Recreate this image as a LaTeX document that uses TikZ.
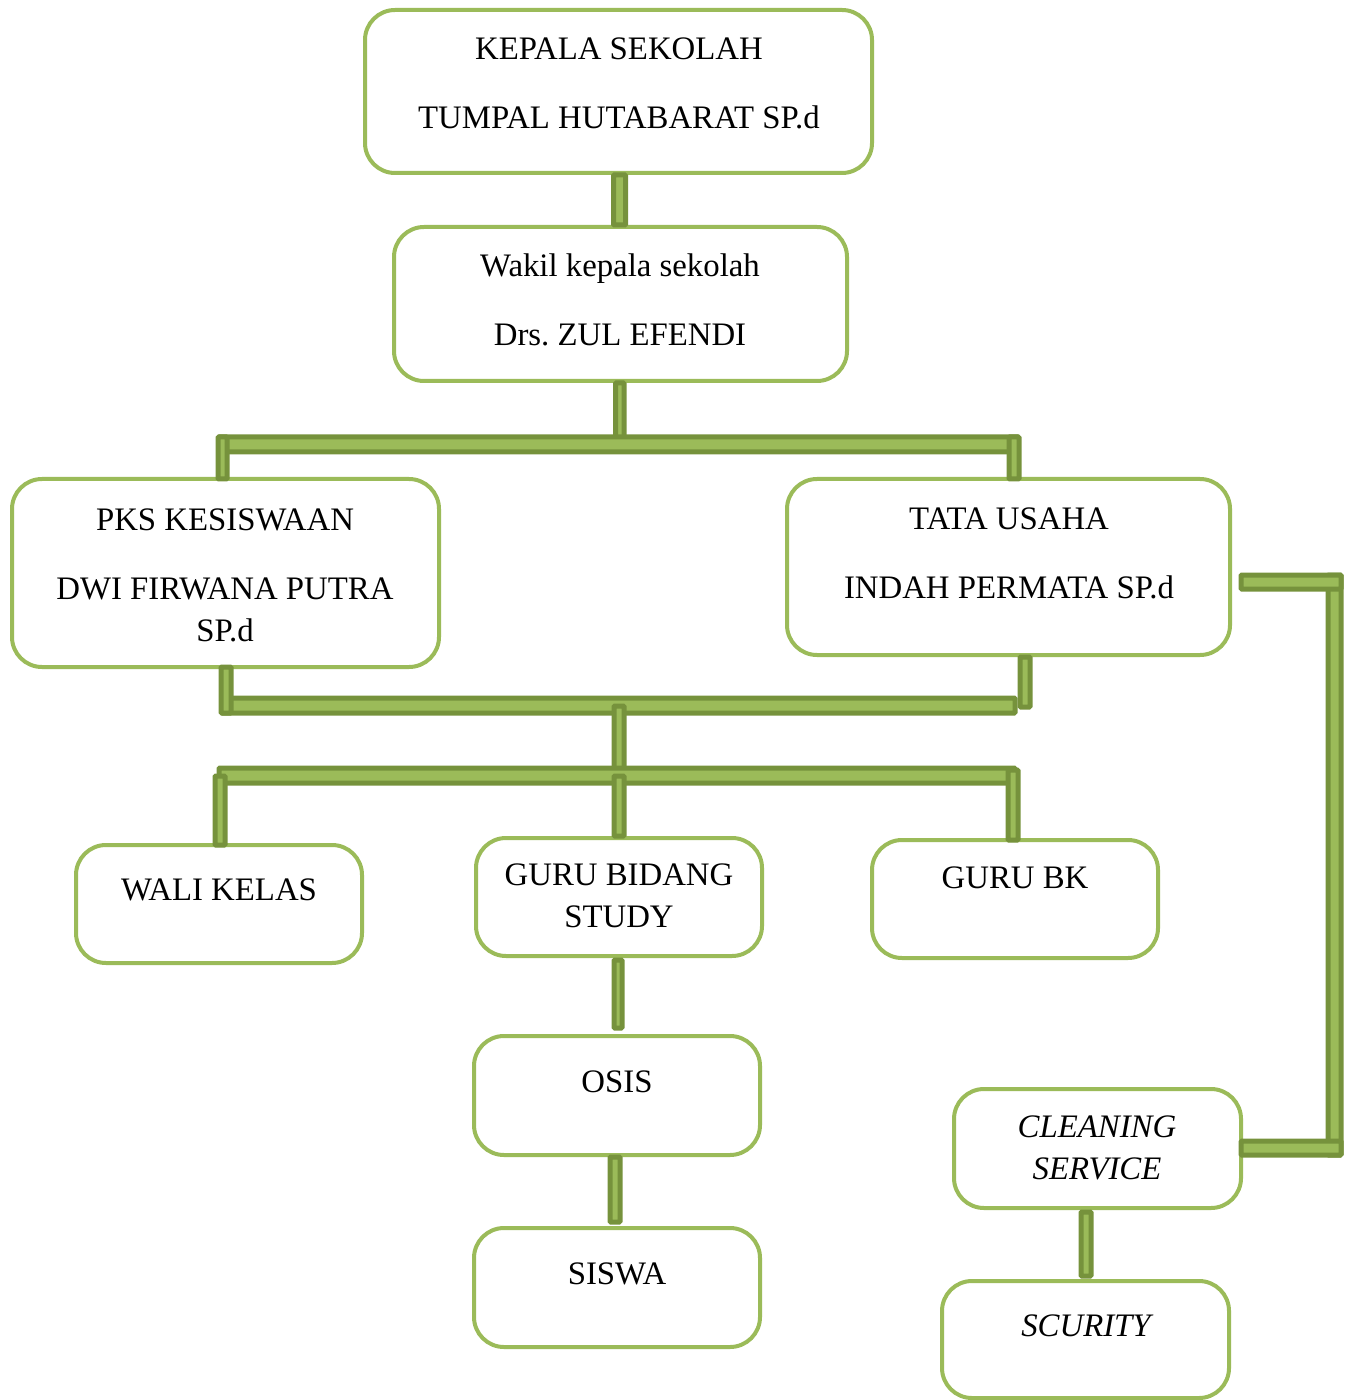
\documentclass[tikz,border=0pt]{standalone}
\usepackage{fontspec}
\setmainfont{Liberation Serif}
\usetikzlibrary{positioning,calc}

\definecolor{olivelight}{HTML}{9BBB59}
\definecolor{olivedark}{HTML}{76923C}

\tikzset{
  orgbox/.style={draw=olivelight, line width=2pt, rounded corners=15pt, inner sep=0pt},
  bar/.style={draw=olivedark, fill=olivelight, line width=2.5pt, rounded corners=0.5pt},
  txt/.style={font=\fontsize{16.4}{21}\selectfont, align=center, inner sep=0pt},
  oneline/.style={txt, text height=10.8pt, text depth=0pt}
}

\begin{document}
\begin{tikzpicture}[x=0.5pt, y=-0.5pt]
  \useasboundingbox (0,0) rectangle (1349,1400);

  % boxes
  \node [orgbox, minimum width=253.5pt, minimum height=81.5pt] (kepala) at (618.5,91.5) {};
  \node [orgbox, minimum width=226.5pt, minimum height=77pt] (wakil) at (620.5,304) {};
  \node [orgbox, minimum width=213.5pt, minimum height=94pt] (pks) at (225.5,573) {};
  \node [orgbox, minimum width=221.5pt, minimum height=88pt] (tatausaha) at (1008.5,567) {};
  \node [orgbox, minimum width=143pt, minimum height=59pt] (wali) at (219,904) {};
  \node [orgbox, minimum width=143pt, minimum height=59pt] (gurubidang) at (619,897) {};
  \node [orgbox, minimum width=143pt, minimum height=59pt] (gurubk) at (1015,899) {};
  \node [orgbox, minimum width=143pt, minimum height=59.5pt] (osis) at (617,1095.5) {};
  \node [orgbox, minimum width=143pt, minimum height=59.5pt] (siswa) at (617,1287.5) {};
  \node [orgbox, minimum width=143.5pt, minimum height=59.5pt] (cleaning) at (1097.5,1148.5) {};
  \node [orgbox, minimum width=143.5pt, minimum height=58.5pt] (scurity) at (1085.5,1339.5) {};

  % texts
  \node [oneline] (kepalaT) at (619,49) {KEPALA SEKOLAH};
  \node [oneline] (kepalaN) at (619,118) {TUMPAL HUTABARAT SP.d};
  \node [txt] (wakilT) at (620,269) {Wakil kepala sekolah};
  \node [oneline] (wakilN) at (620,335) {Drs.\ ZUL EFENDI};
  \node [oneline] (pksT) at (225,520) {PKS KESISWAAN};
  \node [txt] (pksN) at (225,609.5) {DWI FIRWANA PUTRA\\SP.d};
  \node [oneline] (tuT) at (1009,519) {TATA USAHA};
  \node [oneline] (tuN) at (1009,588) {INDAH PERMATA SP.d};
  \node [oneline] (waliT) at (219,890) {WALI KELAS};
  \node [txt] (gurubidangT) at (619,896) {GURU BIDANG\\STUDY};
  \node [oneline] (gurubkT) at (1015,878) {GURU BK};
  \node [oneline] (osisT) at (617,1082) {OSIS};
  \node [oneline] (siswaT) at (617,1274) {SISWA};
  \node [txt, font=\fontsize{16.4}{21}\selectfont\itshape] (cleaningT) at (1097,1148) {CLEANING\\SERVICE};
  \node [oneline, font=\fontsize{16.4}{21}\selectfont\itshape] (scurityT) at (1086,1326) {SCURITY};

  % junction points
  \coordinate (busA) at (619,445);
  \coordinate (busB) at (619,706);
  \coordinate (busC) at (619,776);

  % connectors
  \draw [bar] ([xshift=-2.5pt]kepala.south) rectangle ([xshift=2.5pt]wakil.north);
  \draw [bar] ([xshift=-2.5pt]wakil.south) rectangle ([xshift=2.5pt]busA);
  \draw [bar] (219,437) rectangle (1018,452);
  \draw [bar] (218,437) rectangle (227,479);
  \draw [bar] (1009,437) rectangle (1019,479);

  \draw [bar] (222,698) rectangle (1015,713);
  \draw [bar] (221,667) rectangle (231,713);
  \draw [bar] (1020,657) rectangle (1030,707);
  \draw [bar] ([xshift=-2.5pt]busB) rectangle ([xshift=2.5pt]busC);

  \draw [bar] (219,768) rectangle (1015,783);
  \draw [bar] (215,776) rectangle (225,845);
  \draw [bar] ([xshift=-2.5pt]busC) rectangle ([xshift=2.5pt]gurubidang.north);
  \draw [bar] (1008,770) rectangle (1018,840);

  \draw [bar] ([xshift=-2.5pt,yshift=-1pt]gurubidang.south) rectangle ([xshift=2.5pt,yshift=3pt]osis.north);
  \draw [bar] ([xshift=-3.5pt]osis.south) rectangle ([xshift=1.5pt,yshift=2pt]siswa.north);

  \draw [bar] (1328,575) rectangle (1341,1155);
  \draw [bar] (1241,575) rectangle (1341,589);
  \draw [bar] (1241,1141) rectangle (1341,1155);

  \draw [bar] ([xshift=-8.25pt,yshift=-1pt]cleaning.south) rectangle ([xshift=2.75pt,yshift=1.5pt]scurity.north);
\end{tikzpicture}
\end{document}
